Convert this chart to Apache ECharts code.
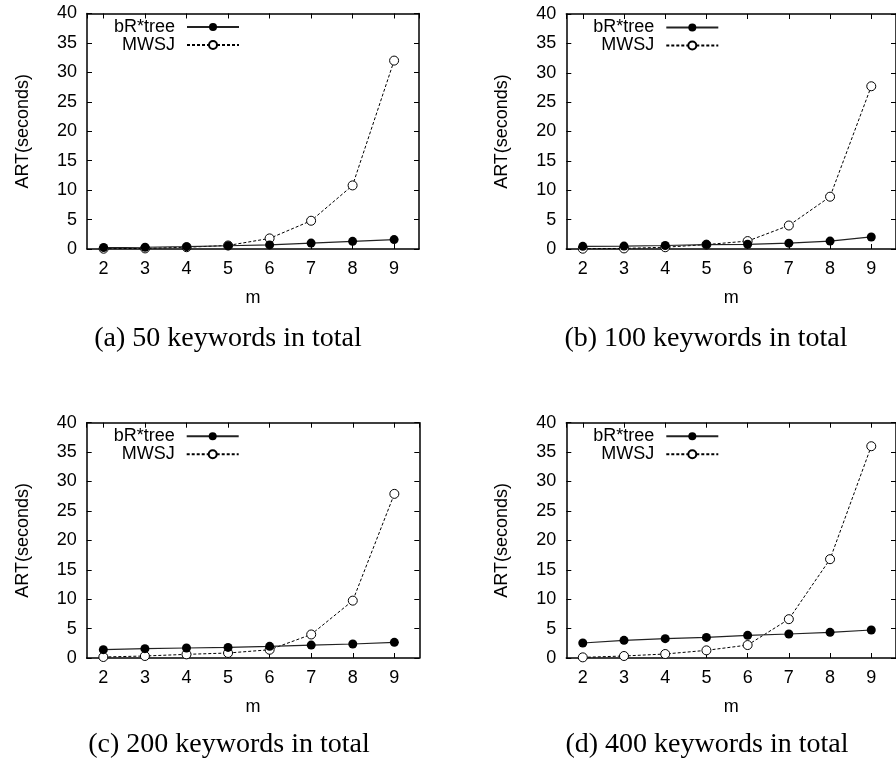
<!DOCTYPE html>
<html>
<head>
<meta charset="utf-8">
<script src="https://cdn.jsdelivr.net/npm/echarts@6/dist/echarts.min.js"></script>
<style>html,body{margin:0;padding:0;background:#fff}#c{width:896px;height:762px}</style>
</head>
<body>
<div id="c"></div>
<script>
// ---- data ----
const mValues = [2, 3, 4, 5, 6, 7, 8, 9];
const seriesNames = ['bR*tree', 'MWSJ'];
const captions = ['(a) 50 keywords in total', '(b) 100 keywords in total', '(c) 200 keywords in total', '(d) 400 keywords in total'];
const bRtree50  = [0.25, 0.3, 0.4, 0.55, 0.7, 1.0, 1.3, 1.6];
const MWSJ50    = [0.05, 0.1, 0.3, 0.6, 1.8, 4.8, 10.8, 32.0];
const bRtree100 = [0.45, 0.5, 0.6, 0.75, 0.8, 1.0, 1.35, 2.05];
const MWSJ100   = [0.05, 0.1, 0.3, 0.75, 1.35, 4.0, 8.9, 27.7];
const bRtree200 = [1.42, 1.59, 1.7, 1.8, 1.98, 2.2, 2.38, 2.66];
const MWSJ200   = [0.17, 0.34, 0.62, 0.85, 1.4, 4.0, 9.75, 27.9];
const bRtree400 = [2.55, 3.0, 3.29, 3.5, 3.85, 4.08, 4.36, 4.76];
const MWSJ400   = [0.11, 0.34, 0.68, 1.3, 2.2, 6.6, 16.8, 36.0];
const yMin = 0, yMax = 40, yInterval = 5;
const xMin = 1.6, xMax = 9.6;

const panelData = [[bRtree50, MWSJ50], [bRtree100, MWSJ100], [bRtree200, MWSJ200], [bRtree400, MWSJ400]];

// ---- layout ----
const W = 896;
const grids = [
  {left: 87, top: 13.5, width: 332, height: 235.5},
  {left: 566.3, top: 14, width: 332, height: 235},
  {left: 86.7, top: 422.7, width: 332.6, height: 235.3},
  {left: 566.3, top: 422.7, width: 332, height: 235.3}
];
const captionPos = [[228, 325], [706, 325], [229, 731], [707, 731]];

const SANS = 'Liberation Sans';
const FS = 18;
const lineW = 1.5;

const option = {
  animation: false,
  backgroundColor: '#fff',
  title: [], grid: [], xAxis: [], yAxis: [], series: [], legend: []
};

grids.forEach((g, i) => {
  option.grid.push(Object.assign({containLabel: false}, g));
  const tick = {show: true, inside: true, length: 5, lineStyle: {color: '#000', width: 1}};
  const axLine = {show: true, onZero: false, lineStyle: {color: '#000', width: lineW}};
  // bottom x
  option.xAxis.push({
    type: 'value', gridIndex: i, position: 'bottom', min: xMin, max: xMax,
    splitNumber: 8, minInterval: 1, maxInterval: 1,
    name: 'm', nameLocation: 'middle', nameGap: 40,
    nameTextStyle: {fontFamily: SANS, fontSize: FS, color: '#000'},
    axisLine: axLine, axisTick: tick, splitLine: {show: false},
    axisLabel: {show: true, margin: 11, fontFamily: SANS, fontSize: FS, color: '#000',
      showMinLabel: false, showMaxLabel: false,
      formatter: v => (Math.abs(v - Math.round(v)) < 1e-6 ? String(Math.round(v)) : '')}
  });
  // top mirror x
  option.xAxis.push({
    type: 'value', gridIndex: i, position: 'top', min: xMin, max: xMax,
    splitNumber: 8, minInterval: 1, maxInterval: 1,
    axisLine: axLine, axisTick: tick, splitLine: {show: false}, axisLabel: {show: false}
  });
  // left y
  option.yAxis.push({
    type: 'value', gridIndex: i, position: 'left', min: yMin, max: yMax, interval: yInterval,
    name: 'ART(seconds)', nameLocation: 'middle', nameGap: 55,
    nameTextStyle: {fontFamily: SANS, fontSize: FS, color: '#000'},
    axisLine: axLine, axisTick: tick, splitLine: {show: false},
    axisLabel: {show: true, margin: 10, fontFamily: SANS, fontSize: FS, color: '#000'}
  });
  // right mirror y
  option.yAxis.push({
    type: 'value', gridIndex: i, position: 'right', min: yMin, max: yMax, interval: yInterval,
    axisLine: axLine, axisTick: tick, splitLine: {show: false}, axisLabel: {show: false}
  });

  const [a, b] = panelData[i];
  option.series.push({
    name: seriesNames[1], type: 'line', xAxisIndex: 2 * i, yAxisIndex: 2 * i,
    data: mValues.map((m, k) => [m, b[k]]),
    symbol: 'circle', symbolSize: 9, showSymbol: true,
    lineStyle: {color: '#000', width: 1, type: [3, 2]},
    itemStyle: {color: '#fff', borderColor: '#000', borderWidth: 1},
    z: 2
  });
  option.series.push({
    name: seriesNames[0], type: 'line', xAxisIndex: 2 * i, yAxisIndex: 2 * i,
    data: mValues.map((m, k) => [m, a[k]]),
    symbol: 'circle', symbolSize: 9,
    lineStyle: {color: '#222', width: 1.2, type: 'solid'},
    itemStyle: {color: '#000'},
    z: 3
  });

  // legends, right-aligned text with line sample on the right
  const iconRight = g.left + 153;
  [0, 1].forEach(r => {
    option.legend.push({
      data: [seriesNames[r]],
      orient: 'vertical', align: 'right',
      right: W - iconRight, top: g.top + 13.5 + 18 * r - 9.5,
      padding: 0, itemWidth: 52, itemHeight: 10, itemGap: 0,
      selectedMode: false,
      textStyle: {fontFamily: SANS, fontSize: FS, color: '#000', lineHeight: 19, padding: [0, 7, 0, 0]}
    });
  });

  option.title.push({
    text: captions[i], left: captionPos[i][0], top: captionPos[i][1], textAlign: 'center', padding: 0,
    textStyle: {fontFamily: 'Liberation Serif', fontWeight: 'normal', fontSize: 28, color: '#000'}
  });
});

const chart = echarts.init(document.getElementById('c'), null, {renderer: 'canvas'});
chart.setOption(option);
</script>
</body>
</html>
